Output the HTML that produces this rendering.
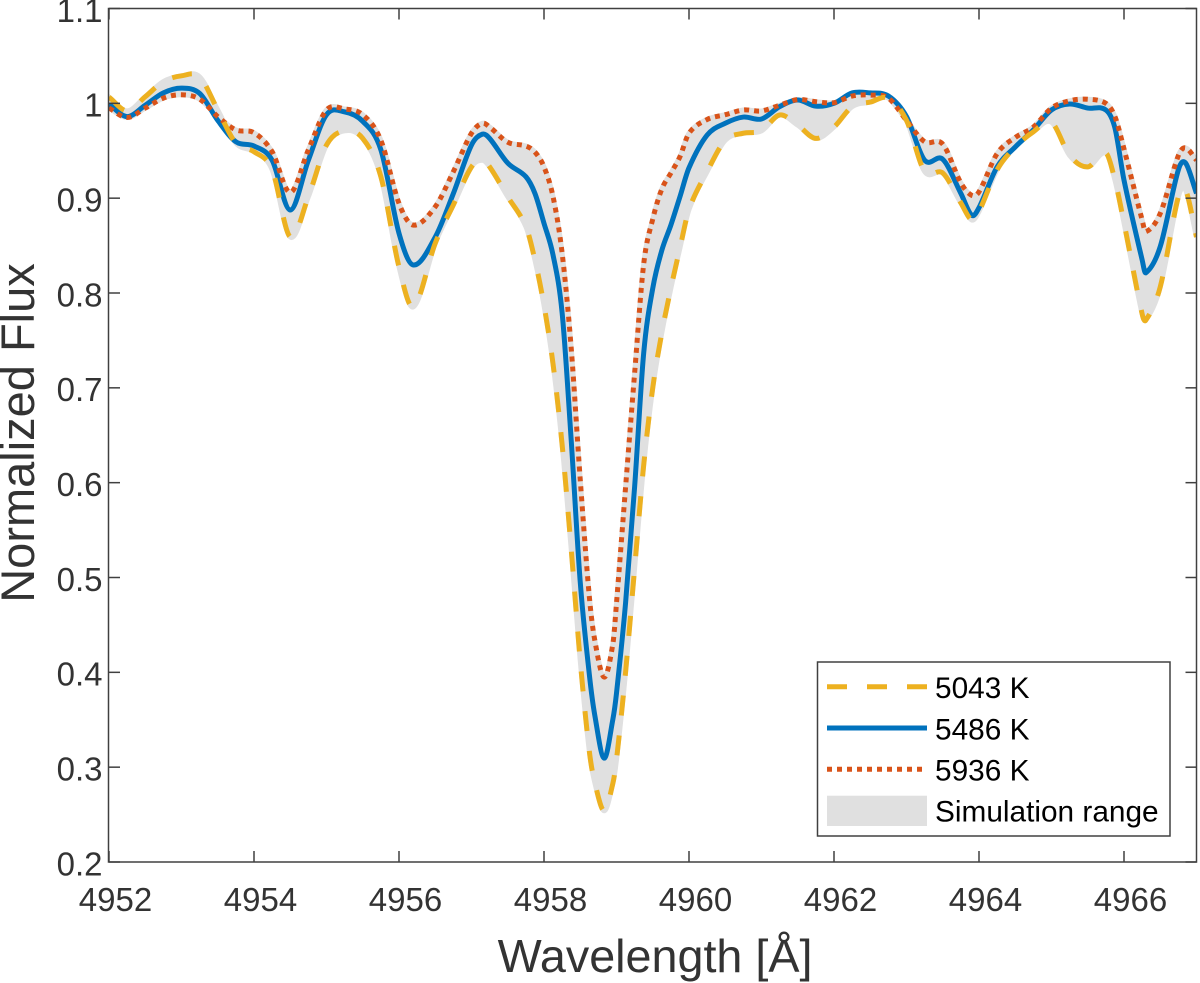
<!DOCTYPE html>
<html lang="en">
<head>
<meta charset="utf-8">
<title>Normalized Flux vs Wavelength</title>
<style>
html,body{margin:0;padding:0;background:#fff;width:1200px;height:983px;overflow:hidden}
svg{display:block;font-family:"Liberation Sans",Arial,sans-serif}
</style>
</head>
<body>
<svg id="chart" xmlns="http://www.w3.org/2000/svg" width="1200" height="983" viewBox="0 0 1200 983">
  <defs>
    <clipPath id="plot-clip"><rect x="108.5" y="8.5" width="1088" height="853.5"/></clipPath>
  </defs>
  <g id="plot" clip-path="url(#plot-clip)"></g>
  <g id="axes"></g>
  <text transform="translate(34,433) rotate(-90)" text-anchor="middle" font-size="47" fill="#333333">Normalized Flux</text>
  <text x="655" y="972" text-anchor="middle" font-size="46.7" fill="#333333">Wavelength [Å]</text>
  <g>
    <rect x="817.5" y="662" width="352.5" height="174" fill="#fff" stroke="#404040" stroke-width="1.5"/>
    <line x1="827" y1="686.7" x2="927" y2="686.7" stroke="#EDB120" stroke-width="5" stroke-dasharray="20 20"/>
    <text x="935" y="698" font-size="29.8" fill="#000">5043 K</text>
    <line x1="827" y1="728" x2="927" y2="728" stroke="#0072BD" stroke-width="5"/>
    <text x="935" y="739.3" font-size="29.8" fill="#000">5486 K</text>
    <line x1="827" y1="769.3" x2="925" y2="769.3" stroke="#D95319" stroke-width="5" stroke-dasharray="5 5"/>
    <text x="935" y="780.7" font-size="29.8" fill="#000">5936 K</text>
    <rect x="827" y="795.7" width="100" height="30.3" fill="#E0E0E0"/>
    <text x="935" y="821.7" font-size="29.8" fill="#000">Simulation range</text>
  </g>
</svg>
<script>
const wavelengths = [4952,4952.25,4952.5,4952.75,4953,4953.25,4953.5,4953.75,4954,4954.25,4954.5,4954.75,4955,4955.25,4955.5,4955.75,4956,4956.2,4956.5,4956.75,4957,4957.15,4957.25,4957.5,4957.75,4957.875,4958,4958.125,4958.25,4958.375,4958.5,4958.625,4958.7,4958.83,4958.95,4959,4959.125,4959.25,4959.375,4959.5,4959.625,4959.75,4959.875,4960,4960.25,4960.5,4960.75,4961,4961.25,4961.5,4961.75,4962,4962.25,4962.5,4962.75,4963,4963.25,4963.5,4963.75,4963.9,4964,4964.25,4964.5,4964.75,4965,4965.25,4965.5,4965.75,4965.875,4966,4966.25,4966.3,4966.5,4966.75,4966.85,4967];
const flux5043 = [1.0066,0.992,1.007,1.023,1.029,1.028,0.993,0.958,0.949,0.93,0.859,0.9015,0.956,0.971,0.963,0.9226,0.8275,0.7855,0.8525,0.893,0.933,0.94,0.933,0.9015,0.87,0.8347,0.787,0.725,0.64,0.53,0.412,0.317,0.284,0.254,0.283,0.308,0.4,0.51,0.6185,0.70,0.758,0.805,0.8474,0.888,0.928,0.961,0.9685,0.971,0.9877,0.977,0.963,0.975,0.9965,1.0013,1.0055,0.982,0.928,0.9265,0.895,0.877,0.886,0.93,0.954,0.97,0.98,0.945,0.933,0.9475,0.919,0.874,0.778,0.7713,0.8065,0.9015,0.9085,0.859];
const flux5486 = [0.999,0.986,0.998,1.011,1.016,1.0105,0.982,0.9595,0.955,0.94,0.8875,0.94,0.988,0.991,0.981,0.951,0.863,0.8295,0.859,0.905,0.956,0.9675,0.963,0.937,0.9226,0.905,0.8735,0.84,0.779,0.645,0.495,0.398,0.355,0.3095,0.3505,0.378,0.473,0.5957,0.7366,0.805,0.845,0.8716,0.9015,0.932,0.9665,0.979,0.9855,0.9835,0.9965,1.0035,0.997,1.0,1.011,1.011,1.0077,0.986,0.94,0.941,0.905,0.882,0.89,0.933,0.954,0.972,0.993,0.9993,0.995,0.993,0.974,0.919,0.835,0.8213,0.849,0.93,0.937,0.905];
const flux5936 = [0.995,0.985,0.995,1.0055,1.009,1.0045,0.986,0.972,0.969,0.949,0.906,0.951,0.993,0.994,0.988,0.961,0.8945,0.8716,0.891,0.928,0.9685,0.979,0.975,0.959,0.955,0.9486,0.933,0.9015,0.842,0.742,0.603,0.48,0.434,0.395,0.43,0.473,0.595,0.7155,0.8305,0.878,0.9096,0.9265,0.9437,0.9685,0.983,0.988,0.993,0.992,0.998,1.004,1.0017,1.0007,1.0077,1.0087,1.0055,0.982,0.9595,0.957,0.916,0.903,0.9067,0.947,0.964,0.975,0.995,1.0027,1.0043,1.0,0.986,0.952,0.877,0.8646,0.884,0.945,0.953,0.94];
const xTickValues = [4952,4954,4956,4958,4960,4962,4964,4966];
const yTickValues = [0.2,0.3,0.4,0.5,0.6,0.7,0.8,0.9,1,1.1];

const xDomain = [4952, 4967];
const yDomain = [0.2, 1.1];
const plotLeft = 109, plotRight = 1196.5, plotTop = 8.5, plotBottom = 862;
const NS = 'http://www.w3.org/2000/svg';

function xScale(w) { return plotLeft + (w - xDomain[0]) / (xDomain[1] - xDomain[0]) * (plotRight - plotLeft); }
function yScale(f) { return plotBottom - (f - yDomain[0]) / (yDomain[1] - yDomain[0]) * (plotBottom - plotTop); }

function splineSegments(xs, ys) {
  const n = xs.length, m = [];
  for (let i = 0; i < n; i++) {
    const a = Math.max(i - 1, 0), b = Math.min(i + 1, n - 1);
    m.push((ys[b] - ys[a]) / (xs[b] - xs[a]));
  }
  let d = '';
  for (let i = 0; i < n - 1; i++) {
    const h = (xs[i + 1] - xs[i]) / 3;
    d += 'C' + (xs[i] + h).toFixed(2) + ' ' + (ys[i] + m[i] * h).toFixed(2) + ' ' +
         (xs[i + 1] - h).toFixed(2) + ' ' + (ys[i + 1] - m[i + 1] * h).toFixed(2) + ' ' +
         xs[i + 1].toFixed(2) + ' ' + ys[i + 1].toFixed(2);
  }
  return d;
}
function linePath(values) {
  const xs = wavelengths.map(xScale), ys = values.map(yScale);
  return 'M' + xs[0].toFixed(2) + ' ' + ys[0].toFixed(2) + splineSegments(xs, ys);
}
function bandPath(upper, lower) {
  const xs = wavelengths.map(xScale), ys = upper.map(yScale);
  const rx = xs.slice().reverse(), ry = lower.map(yScale).reverse();
  return 'M' + xs[0].toFixed(2) + ' ' + ys[0].toFixed(2) + splineSegments(xs, ys) +
         'L' + rx[0].toFixed(2) + ' ' + ry[0].toFixed(2) + splineSegments(rx, ry) + 'Z';
}

const plotGroup = document.getElementById('plot');
const axesGroup = document.getElementById('axes');

const band = document.createElementNS(NS, 'path');


band.setAttribute('d', bandPath(flux5936, flux5043));
band.setAttribute('fill', '#E0E0E0');
band.setAttribute('stroke', '#E0E0E0');
band.setAttribute('stroke-width', '5');
plotGroup.appendChild(band);

const line5486 = document.createElementNS(NS, 'path');


line5486.setAttribute('d', linePath(flux5486));
line5486.setAttribute('fill', 'none');
line5486.setAttribute('stroke', '#0072BD');
line5486.setAttribute('stroke-width', '5');
plotGroup.appendChild(line5486);

const line5936 = document.createElementNS(NS, 'path');


line5936.setAttribute('d', linePath(flux5936));
line5936.setAttribute('fill', 'none');
line5936.setAttribute('stroke', '#D95319');
line5936.setAttribute('stroke-width', '5');
line5936.setAttribute('stroke-dasharray', '5 5');
plotGroup.appendChild(line5936);

const line5043 = document.createElementNS(NS, 'path');


line5043.setAttribute('d', linePath(flux5043));
line5043.setAttribute('fill', 'none');
line5043.setAttribute('stroke', '#EDB120');
line5043.setAttribute('stroke-width', '5');
line5043.setAttribute('stroke-dasharray', '20 20');
plotGroup.appendChild(line5043);

const frame = document.createElementNS(NS, 'rect');


frame.setAttribute('x', plotLeft - 0.5);
frame.setAttribute('y', plotTop);
frame.setAttribute('width', plotRight - plotLeft + 0.5);
frame.setAttribute('height', plotBottom - plotTop);
frame.setAttribute('fill', 'none');
frame.setAttribute('stroke', '#404040');
frame.setAttribute('stroke-width', '1.5');
axesGroup.appendChild(frame);

const tickLen = 11;
function addTick(x1, y1, x2, y2) {
  const t = document.createElementNS(NS, 'line');
  
  
  t.setAttribute('x1', x1);
  t.setAttribute('y1', y1);
  t.setAttribute('x2', x2);
  t.setAttribute('y2', y2);
  t.setAttribute('stroke', '#404040');
  t.setAttribute('stroke-width', '1.5');
  axesGroup.appendChild(t);
}

xTickValues.forEach(function (v) {
  const px = xScale(v);
  addTick(px, plotBottom, px, plotBottom - tickLen);
  addTick(px, plotTop, px, plotTop + tickLen);
  const label = document.createElementNS(NS, 'text');
  
  
  label.setAttribute('x', px + 6.5);
  label.setAttribute('y', 911);
  label.setAttribute('text-anchor', 'middle');
  label.setAttribute('font-size', '33');
  label.setAttribute('fill', '#333333');
  label.textContent = String(v);
  axesGroup.appendChild(label);
});

yTickValues.forEach(function (v) {
  const py = yScale(v);
  addTick(plotLeft, py, plotLeft + tickLen, py);
  addTick(plotRight, py, plotRight - tickLen, py);
  const label = document.createElementNS(NS, 'text');
  
  
  label.setAttribute('x', 102.5);
  label.setAttribute('y', py + 13.3);
  label.setAttribute('text-anchor', 'end');
  label.setAttribute('font-size', '33');
  label.setAttribute('fill', '#333333');
  label.textContent = String(v);
  axesGroup.appendChild(label);
});
</script>
</body>
</html>
